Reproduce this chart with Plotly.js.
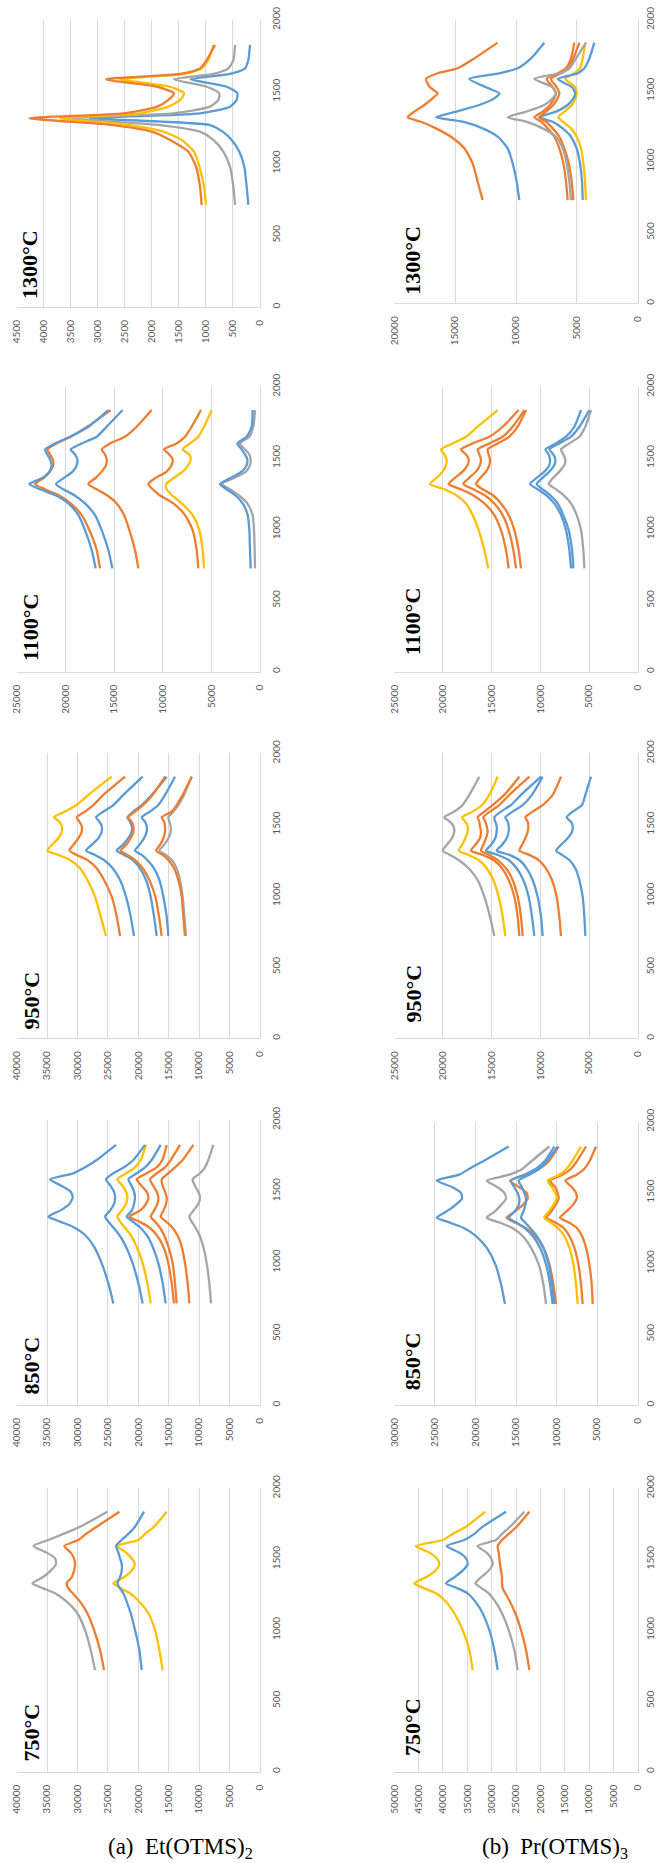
<!DOCTYPE html>
<html><head><meta charset="utf-8">
<script src="https://cdn.plot.ly/plotly-3.0.1.min.js"></script>
<style>html,body{margin:0;padding:0;background:#fff}#chart{width:656px;height:1863px}</style>
</head><body><div id="chart"></div>
<script>
// ---------- wavenumber samples (cm-1) ----------
const wnA1300 = [711, 839, 978, 1082, 1164, 1222, 1268, 1315, 1350, 1396, 1443, 1489, 1535, 1587, 1624, 1663, 1721, 1826];
const wnB1300 = [729, 859, 988, 1094, 1176, 1235, 1282, 1313, 1353, 1400, 1447, 1482, 1525, 1584, 1624, 1659, 1729, 1840];
const wn1100 = [725, 854, 994, 1099, 1181, 1240, 1280, 1317, 1357, 1404, 1450, 1490, 1525, 1560, 1602, 1649, 1719, 1836];
const wn950 = [718, 854, 994, 1111, 1193, 1251, 1287, 1317, 1357, 1404, 1450, 1490, 1520, 1551, 1591, 1637, 1708, 1836];
const wn850 = [713, 854, 994, 1111, 1193, 1251, 1287, 1322, 1364, 1411, 1457, 1497, 1537, 1584, 1626, 1668, 1719, 1825];
const wn750 = [718, 859, 1000, 1118, 1200, 1259, 1294, 1329, 1372, 1419, 1466, 1506, 1546, 1593, 1635, 1678, 1729, 1835];

// ---------- (a) Et(OTMS)2 intensities ----------
const a1300Orange = [1079, 1110, 1183, 1325, 1664, 2003, 2712, 4265, 2527, 1899, 1695, 1590, 1911, 2848, 1479, 1110, 986, 832];
const a1300Yellow = [999, 1036, 1122, 1220, 1449, 1788, 2404, 3698, 2219, 1695, 1479, 1405, 1664, 2589, 1387, 1079, 955, 863];
const a1300Grey = [462, 493, 555, 678, 863, 1110, 1849, 3544, 1603, 925, 770, 752, 986, 1590, 863, 586, 493, 462];
const a1300Blue = [216, 247, 290, 382, 524, 690, 925, 3144, 1110, 555, 431, 419, 616, 1282, 555, 277, 216, 185];

const a1100Blue1 = [16885, 17296, 17981, 18666, 19694, 21064, 22605, 23701, 22434, 21646, 21406, 21578, 21852, 22091, 21064, 19523, 17639, 15584];
const a1100Orange1 = [16440, 16783, 17536, 18324, 19454, 20721, 22091, 23119, 22263, 21578, 21235, 21304, 21578, 21852, 20893, 19454, 17742, 15344];
const a1100Blue2 = [15173, 15584, 16269, 16954, 17981, 19112, 20208, 20961, 20208, 19249, 18838, 18769, 19009, 19454, 18324, 16783, 15755, 14111];
const a1100Orange2 = [12501, 12844, 13426, 13974, 14728, 15755, 16783, 17639, 16954, 16269, 15824, 15755, 15926, 16269, 15413, 13871, 12673, 11131];
const a1100Orange3 = [6336, 6508, 6919, 7706, 8905, 10344, 11029, 11474, 10789, 9590, 9076, 8974, 9316, 9864, 8563, 7706, 7021, 6062];
const a1100Yellow = [5754, 5891, 6234, 6919, 8049, 9076, 9590, 9659, 8905, 7946, 7364, 7124, 7261, 7946, 7193, 6336, 5754, 4966];
const a1100Blue3 = [959, 1028, 1096, 1267, 1781, 2569, 3425, 4110, 3083, 1884, 1370, 1302, 1541, 1884, 2329, 1370, 856, 754];
const a1100Grey = [514, 548, 617, 754, 1302, 2226, 3083, 3939, 2740, 1439, 1028, 959, 1096, 1541, 2055, 1096, 685, 514];

const a950Yellow = [25313, 26190, 27121, 28381, 29587, 31230, 33148, 34956, 34244, 33148, 32600, 32600, 32983, 33860, 32052, 30135, 28217, 24382];
const a950Orange1 = [23012, 23560, 24382, 25642, 26847, 28381, 30135, 31340, 30682, 29861, 29313, 29313, 29696, 30135, 28765, 27395, 25751, 22190];
const a950Blue1 = [20711, 21259, 22026, 23012, 24217, 25642, 27121, 28600, 27669, 26573, 26025, 26025, 26409, 26957, 25751, 24108, 22464, 19286];
const a950Blue2 = [16985, 17423, 17971, 18738, 19724, 20930, 22355, 23560, 22574, 21642, 21094, 21094, 21368, 21806, 20820, 19450, 17807, 15341];
const a950Orange2 = [16163, 16601, 17204, 18190, 19286, 20546, 21806, 22902, 22026, 21259, 20820, 20820, 21094, 21642, 20546, 19176, 17642, 15615];
const a950Blue3 = [15067, 15341, 15889, 16547, 17423, 18519, 19450, 20546, 19834, 19067, 18628, 18628, 18902, 19450, 18080, 16711, 15615, 13971];
const a950Orange3 = [12328, 12602, 12876, 13424, 14136, 15067, 15999, 17095, 16437, 15889, 15615, 15615, 15780, 16163, 14519, 13698, 12711, 11232];
const a950Grey = [12164, 12437, 12711, 13150, 13698, 14519, 15451, 16547, 15780, 15067, 14684, 14684, 14903, 15067, 14245, 13424, 12492, 11232];

const a850Blue1 = [24108, 24929, 26025, 27285, 28765, 30792, 32874, 34792, 32874, 31340, 30792, 31121, 32600, 34518, 30682, 28765, 26847, 23669];
const a850Blue2 = [19286, 19998, 20930, 22026, 23121, 24217, 24929, 25477, 24656, 23998, 23834, 23998, 24546, 25313, 24108, 22355, 20820, 18903];
const a850Yellow = [17971, 18519, 19286, 20272, 21259, 22355, 23012, 23450, 22738, 22026, 21806, 22026, 22574, 23450, 22026, 20546, 19615, 18738];
const a850Blue3 = [15506, 15999, 16711, 17642, 18629, 19834, 20930, 21916, 21094, 20711, 20546, 20711, 21094, 21642, 20272, 18903, 17807, 16327];
const a850OrangeA = [14136, 14519, 15067, 15889, 16985, 18355, 19834, 21478, 19724, 18738, 18355, 18629, 19450, 20272, 18629, 16985, 16053, 15341];
const a850OrangeB = [13698, 13971, 14355, 15067, 15780, 16547, 17259, 17971, 17423, 16875, 16711, 16985, 17533, 18081, 16985, 15615, 14684, 13150];
const a850OrangeC = [11615, 11889, 12328, 12876, 13588, 14519, 15451, 16327, 15889, 15451, 15341, 15615, 15999, 16163, 15067, 13971, 12711, 10958];
const a850Grey = [8054, 8328, 8766, 9314, 9972, 10684, 11232, 11615, 10958, 10136, 9862, 10136, 10684, 11068, 9862, 9040, 8492, 7671];

const a750Grey = [27121, 27833, 28765, 30025, 31778, 33696, 35614, 37422, 35723, 34408, 33531, 33696, 35066, 37257, 34792, 32326, 29587, 25094];
const a750Orange = [25642, 26299, 27285, 28381, 29587, 30792, 31504, 31778, 30957, 30573, 30409, 30573, 31121, 32162, 29861, 28600, 26847, 23121];
const a750Blue = [19451, 19834, 20546, 21259, 21916, 22464, 23012, 23450, 23012, 22738, 22738, 23012, 23286, 23669, 22738, 21642, 20546, 19067];
const a750Yellow = [15999, 16547, 17259, 18355, 19834, 21368, 22902, 24108, 22355, 21094, 20601, 21094, 22026, 23450, 19998, 18903, 17423, 15341];

// ---------- (b) Pr(OTMS)3 intensities ----------
const b1300Orange1 = [12741, 13152, 13563, 14248, 15344, 16577, 17810, 18906, 18358, 17536, 16851, 16440, 17070, 17399, 16440, 14796, 13426, 11508];
const b1300Blue1 = [9727, 9946, 10275, 10686, 11508, 12741, 14385, 16577, 14933, 13015, 11782, 11371, 12467, 13837, 11371, 9864, 8768, 7672];
const b1300Grey = [5480, 5617, 5836, 6165, 6713, 7809, 9179, 10686, 9179, 7672, 6987, 6713, 6987, 8494, 6439, 5617, 5069, 4247];
const b1300Orange2 = [5754, 5891, 6110, 6439, 6850, 7398, 7946, 8494, 7809, 7206, 6850, 6713, 6987, 7480, 6576, 5891, 5480, 5206];
const b1300Orange3 = [5288, 5425, 5672, 6028, 6439, 6987, 7535, 8083, 7535, 6932, 6576, 6439, 6658, 7124, 6302, 5672, 5288, 4795];
const b1300Blue2 = [4521, 4576, 4740, 5014, 5480, 6165, 6987, 8083, 6713, 5754, 5288, 5124, 5398, 6576, 4932, 4384, 3973, 3562];
const b1300Yellow = [4247, 4329, 4466, 4658, 5014, 5480, 6165, 6521, 6028, 5398, 5124, 5014, 5124, 5946, 5206, 4740, 4521, 4302];

const b1100Yellow = [15344, 15755, 16337, 16954, 17639, 18666, 19865, 21338, 20721, 20036, 19694, 19625, 19865, 20208, 19009, 17639, 16440, 14385];
const b1100OrangeA = [13255, 13529, 14043, 14728, 15755, 16954, 18153, 19420, 18838, 17981, 17468, 17365, 17639, 18153, 16954, 15241, 13871, 12227];
const b1100OrangeB = [12501, 12775, 13255, 13871, 14728, 15755, 16885, 17913, 17365, 16611, 16200, 16098, 16269, 16440, 15241, 13871, 12844, 11645];
const b1100OrangeC = [11988, 12227, 12673, 13255, 14043, 14899, 15926, 16611, 16200, 15584, 15241, 15173, 15310, 15413, 14385, 13186, 12330, 11474];
const b1100BlueA = [6850, 7021, 7364, 7878, 8563, 9419, 10275, 11063, 10446, 9590, 9076, 9008, 9145, 9487, 8391, 7364, 6508, 5823];
const b1100BlueB = [6610, 6747, 7090, 7638, 8220, 9008, 9761, 10378, 9830, 9076, 8563, 8460, 8665, 9076, 8049, 6850, 5994, 4966];
const b1100Grey = [5480, 5583, 5823, 6268, 6850, 7638, 8391, 9145, 8734, 8049, 7535, 7432, 7638, 7878, 7021, 5994, 5377, 4795];

const b950Grey = [14728, 15173, 15755, 16440, 17365, 18392, 19283, 20036, 19625, 19077, 18838, 18940, 19283, 19865, 18838, 17981, 17296, 16269];
const b950Yellow = [13597, 13871, 14282, 14830, 15515, 16337, 17365, 18392, 18050, 17707, 17468, 17468, 17707, 18050, 16954, 15995, 15241, 14385];
const b950Orange1 = [12159, 12330, 12673, 13255, 13940, 14830, 15926, 17125, 16680, 16200, 16098, 16200, 16269, 16440, 15755, 14899, 13700, 12159];
const b950Orange2 = [11816, 11988, 12330, 12844, 13529, 14385, 15241, 16098, 15858, 15584, 15413, 15515, 15652, 15858, 15173, 14214, 13186, 11131];
const b950Blue1 = [10618, 10857, 11200, 11748, 12433, 13255, 14385, 15584, 15070, 14625, 14488, 14488, 14625, 14728, 14043, 13015, 11988, 9933];
const b950Blue2 = [9761, 9933, 10275, 10789, 11405, 12159, 13186, 14488, 13940, 13460, 13255, 13255, 13358, 13597, 12844, 11816, 10857, 9761];
const b950Orange3 = [7878, 8049, 8323, 8802, 9419, 10172, 11131, 12159, 11885, 11542, 11303, 11234, 11303, 11542, 10789, 9761, 8734, 7878];
const b950Blue3 = [5377, 5480, 5651, 5994, 6405, 7021, 7775, 8391, 7878, 7193, 6747, 6679, 6850, 7295, 6679, 5720, 5377, 4795];

const b850Blue1 = [16358, 16851, 17550, 18618, 19934, 21495, 23139, 24783, 23632, 22482, 21660, 21783, 22811, 24783, 21989, 20756, 19112, 15906];
const b850Grey = [11303, 11631, 12207, 13152, 14180, 15495, 16974, 18618, 17673, 16851, 16235, 16440, 17262, 18618, 15824, 14180, 13152, 10892];
const b850Blue2 = [10481, 10809, 11303, 12042, 12947, 13974, 14919, 15906, 15207, 14673, 14591, 14796, 15207, 15618, 13974, 12536, 11508, 10275];
const b850Blue3 = [10275, 10563, 10974, 11631, 12453, 13275, 13851, 14385, 14097, 13851, 13769, 13974, 14262, 14673, 13358, 12125, 11220, 9864];
const b850Orange1 = [10070, 10398, 10892, 11631, 12618, 13851, 15084, 16152, 15207, 14180, 13563, 13686, 14591, 15741, 13769, 12125, 10974, 9741];
const b850Yellow = [7398, 7604, 7932, 8426, 9042, 9864, 10686, 11508, 10974, 10398, 9987, 10152, 10563, 11097, 9659, 8754, 8097, 6987];
const b850Orange2 = [6782, 6987, 7316, 7809, 8426, 9165, 10070, 11220, 10686, 10152, 9741, 9864, 10152, 10809, 9248, 8220, 7521, 6371];
const b850Orange3 = [5549, 5672, 5960, 6371, 6864, 7521, 8426, 9577, 8837, 8015, 7521, 7604, 8097, 8919, 7521, 6576, 5960, 5138];

const b750Yellow = [33903, 34587, 35957, 37670, 39382, 41436, 43834, 45888, 43491, 41574, 40752, 41300, 42806, 45546, 40067, 38012, 35272, 31300];
const b750Blue = [28766, 29451, 30478, 31848, 33355, 34930, 36985, 39382, 37670, 35957, 34930, 35272, 36642, 39245, 35615, 33560, 31848, 27054];
const b750Grey = [24656, 25341, 26506, 27875, 29245, 30615, 31985, 33355, 32190, 30615, 29793, 30136, 31026, 32875, 29108, 27875, 26232, 23287];
const b750Orange = [22259, 22944, 23972, 25136, 26232, 27191, 27738, 27876, 27876, 28081, 28286, 28423, 28560, 28766, 27876, 26506, 24862, 22259];

// ---------- panel labels and captions ----------
const panelLabels = ['1300°C', '1100°C', '950°C', '850°C', '750°C'];
const captionA = '(a)\u00a0\u00a0Et(OTMS)<sub>2</sub>';
const captionB = '(b)\u00a0\u00a0Pr(OTMS)<sub>3</sub>';

// ---------- styling / layout ----------
const W = 656, H = 1863;
const COL = {blue: '#5B9BD5', orange: '#ED7D31', grey: '#A5A5A5', yellow: '#FFC000'};
const colX = [[16.7, 260], [394.3, 637.7]];
const yStandoff = [7, 3];

const panels = [
  {col: 0, top: 20, bottom: 307, max: 4500, dtick: 500, wn: wnA1300, label: panelLabels[0], lc: [30, 265],
   s: [[a1300Blue, 'blue'], [a1300Grey, 'grey'], [a1300Yellow, 'yellow'], [a1300Orange, 'orange']]},
  {col: 0, top: 386.7, bottom: 671.7, max: 25000, dtick: 5000, wn: wn1100, label: panelLabels[1], lc: [30.5, 627.5],
   s: [[a1100Grey, 'grey'], [a1100Blue3, 'blue'], [a1100Yellow, 'yellow'], [a1100Orange3, 'orange'], [a1100Orange2, 'orange'], [a1100Blue2, 'blue'], [a1100Orange1, 'orange'], [a1100Blue1, 'blue']]},
  {col: 0, top: 753.3, bottom: 1038.3, max: 40000, dtick: 5000, wn: wn950, label: panelLabels[2], lc: [30.5, 1001],
   s: [[a950Grey, 'grey'], [a950Orange3, 'orange'], [a950Blue3, 'blue'], [a950Blue2, 'blue'], [a950Orange2, 'orange'], [a950Blue1, 'blue'], [a950Orange1, 'orange'], [a950Yellow, 'yellow']]},
  {col: 0, top: 1120, bottom: 1405, max: 40000, dtick: 5000, wn: wn850, label: panelLabels[3], lc: [30.5, 1366],
   s: [[a850Grey, 'grey'], [a850OrangeC, 'orange'], [a850OrangeB, 'orange'], [a850OrangeA, 'orange'], [a850Blue3, 'blue'], [a850Yellow, 'yellow'], [a850Blue2, 'blue'], [a850Blue1, 'blue']]},
  {col: 0, top: 1488.3, bottom: 1771.7, max: 40000, dtick: 5000, wn: wn750, label: panelLabels[4], lc: [30.5, 1733],
   s: [[a750Yellow, 'yellow'], [a750Blue, 'blue'], [a750Orange, 'orange'], [a750Grey, 'grey']]},
  {col: 1, top: 20, bottom: 303.3, max: 20000, dtick: 5000, wn: wnB1300, label: panelLabels[0], lc: [412.7, 260],
   s: [[b1300Yellow, 'yellow'], [b1300Blue2, 'blue'], [b1300Orange3, 'orange'], [b1300Orange2, 'orange'], [b1300Grey, 'grey'], [b1300Blue1, 'blue'], [b1300Orange1, 'orange']]},
  {col: 1, top: 386.7, bottom: 671.7, max: 25000, dtick: 5000, wn: wn1100, label: panelLabels[1], lc: [412.5, 621.7],
   s: [[b1100Grey, 'grey'], [b1100BlueB, 'blue'], [b1100BlueA, 'blue'], [b1100OrangeC, 'orange'], [b1100OrangeB, 'orange'], [b1100OrangeA, 'orange'], [b1100Yellow, 'yellow']]},
  {col: 1, top: 753.3, bottom: 1038.3, max: 25000, dtick: 5000, wn: wn950, label: panelLabels[2], lc: [412.5, 994],
   s: [[b950Blue3, 'blue'], [b950Orange3, 'orange'], [b950Blue2, 'blue'], [b950Blue1, 'blue'], [b950Orange2, 'orange'], [b950Orange1, 'orange'], [b950Yellow, 'yellow'], [b950Grey, 'grey']]},
  {col: 1, top: 1121.7, bottom: 1405, max: 30000, dtick: 5000, wn: wn850, label: panelLabels[3], lc: [412.5, 1361.7],
   s: [[b850Orange3, 'orange'], [b850Orange2, 'orange'], [b850Yellow, 'yellow'], [b850Orange1, 'orange'], [b850Blue3, 'blue'], [b850Blue2, 'blue'], [b850Grey, 'grey'], [b850Blue1, 'blue']]},
  {col: 1, top: 1488.3, bottom: 1771.7, max: 50000, dtick: 5000, wn: wn750, label: panelLabels[4], lc: [412.5, 1727.5],
   s: [[b750Orange, 'orange'], [b750Grey, 'grey'], [b750Blue, 'blue'], [b750Yellow, 'yellow']]}
];

const tickFont = {family: 'Lato, "Liberation Sans", sans-serif', size: 10, color: '#595959'};
const data = [];
const layout = {
  width: W, height: H, margin: {l: 0, r: 0, t: 0, b: 0},
  paper_bgcolor: '#ffffff', plot_bgcolor: '#ffffff', showlegend: false,
  annotations: []
};

panels.forEach((p, i) => {
  const n = i + 1;
  const xk = n === 1 ? 'x' : 'x' + n, yk = n === 1 ? 'y' : 'y' + n;
  const xa = n === 1 ? 'xaxis' : 'xaxis' + n, ya = n === 1 ? 'yaxis' : 'yaxis' + n;
  const [xl, xr] = colX[p.col];
  layout[xa] = {
    domain: [xl / W, xr / W], anchor: yk, range: [p.max, 0], autorange: false,
    tick0: 0, dtick: p.dtick, tickformat: 'd', tickangle: -90, ticks: '',
    showgrid: true, gridcolor: '#d9d9d9', gridwidth: 1, zeroline: false,
    showline: true, linecolor: '#d9d9d9', linewidth: 1,
    tickfont: tickFont, ticklabelstandoff: 8, fixedrange: true
  };
  layout[ya] = {
    domain: [1 - p.bottom / H, 1 - p.top / H], anchor: xk, side: 'right',
    range: [0, 2000], autorange: false, tick0: 0, dtick: 500, tickformat: 'd',
    tickangle: -90, ticks: '', showgrid: false, zeroline: false,
    showline: true, linecolor: '#d9d9d9', linewidth: 1,
    tickfont: tickFont, ticklabelstandoff: yStandoff[p.col], fixedrange: true
  };
  p.s.forEach(([vals, c]) => {
    data.push({
      type: 'scatter', mode: 'lines', x: vals, y: p.wn, xaxis: xk, yaxis: yk,
      line: {color: COL[c], width: 2.3, shape: 'spline', smoothing: 0.6},
      hoverinfo: 'skip'
    });
  });
  layout.annotations.push({
    xref: 'paper', yref: 'paper', x: p.lc[0] / W, y: 1 - p.lc[1] / H,
    xanchor: 'center', yanchor: 'middle', text: p.label, textangle: -90, showarrow: false,
    font: {family: '"Liberation Serif", "Times New Roman", serif', size: 22, color: '#000000', weight: 'bold'}
  });
});

layout.annotations.push({
  xref: 'paper', yref: 'paper', x: 180 / W, y: 1 - 1848 / H, xanchor: 'center', yanchor: 'middle',
  text: captionA, showarrow: false,
  font: {family: '"Liberation Serif", "Times New Roman", serif', size: 23, color: '#000000'}
});
layout.annotations.push({
  xref: 'paper', yref: 'paper', x: 554.5 / W, y: 1 - 1848 / H, xanchor: 'center', yanchor: 'middle',
  text: captionB, showarrow: false,
  font: {family: '"Liberation Serif", "Times New Roman", serif', size: 23, color: '#000000'}
});

Plotly.newPlot('chart', data, layout, {staticPlot: true, displayModeBar: false});
</script></body></html>
